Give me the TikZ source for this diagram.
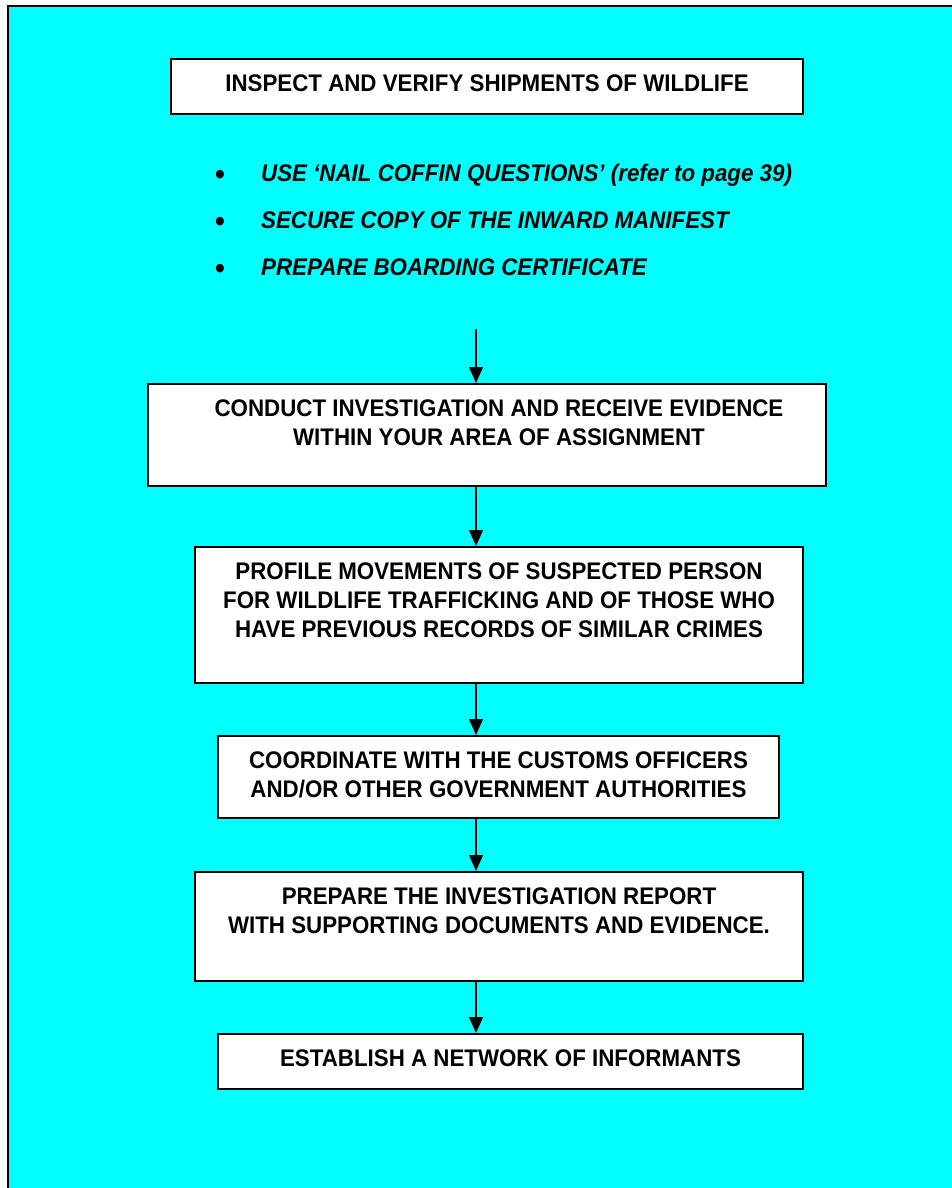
\documentclass[tikz,border=0pt]{standalone}
\usepackage{fontspec}
\setmainfont{Liberation Sans}[FakeStretch=0.93]
\usetikzlibrary{arrows.meta,positioning}
\definecolor{bgcyan}{RGB}{0,255,255}
\newcommand{\bulletmark}{\makebox[46pt][l]{\raisebox{-2.5pt}{\upshape\fontsize{30}{29}\selectfont\textbullet}}}

\begin{document}
\begin{tikzpicture}[x=1pt,y=-1pt,
  stepbox/.style={draw=black,line width=2pt,fill=white,anchor=north,align=center,
    font=\bfseries\fontsize{24}{29}\selectfont,text height=17pt,inner xsep=0pt,inner ysep=15.5pt},
  bullet/.style={anchor=base west,inner sep=0pt,font=\bfseries\itshape\fontsize{24}{29}\selectfont},
  flow/.style={-{Triangle[length=16pt,width=14pt]},line width=1.3pt}]
\useasboundingbox (0,0) rectangle (951,1188);
\draw[fill=bgcyan,line width=2pt] (8,6) rectangle (990,1230);
\node[stepbox,minimum width=632pt,text depth=7pt] (b1) at (487,58) {INSPECT AND VERIFY SHIPMENTS OF WILDLIFE};
\node[bullet] (u1) at (215,181.5) {\bulletmark USE `NAIL COFFIN QUESTIONS' (refer to page 39)};
\node[bullet] (u2) at (215,228.5) {\bulletmark SECURE COPY OF THE INWARD MANIFEST};
\node[bullet] (u3) at (215,275.5) {\bulletmark PREPARE BOARDING CERTIFICATE};
\coordinate (a0) at (476,329);
\node[stepbox,minimum width=678pt,text height=46pt,text depth=25pt] (b2) at (487,383) {\hspace*{24pt}CONDUCT INVESTIGATION AND RECEIVE EVIDENCE\\\hspace*{24pt}WITHIN YOUR AREA OF ASSIGNMENT};
\node[stepbox,minimum width=608pt,text height=75pt,text depth=30pt] (b3) at (499,546) {PROFILE MOVEMENTS OF SUSPECTED PERSON\\FOR WILDLIFE TRAFFICKING AND OF THOSE WHO\\HAVE PREVIOUS RECORDS OF SIMILAR CRIMES};
\node[stepbox,minimum width=561pt,text height=46pt,text depth=5pt] (b4) at (498.5,735) {COORDINATE WITH THE CUSTOMS OFFICERS\\AND/OR OTHER GOVERNMENT AUTHORITIES};
\node[stepbox,minimum width=608pt,text height=46pt,text depth=32pt] (b5) at (499,871) {PREPARE THE INVESTIGATION REPORT\\WITH SUPPORTING DOCUMENTS AND EVIDENCE.};
\node[stepbox,minimum width=585pt,text depth=7pt] (b6) at (510.5,1033) {ESTABLISH A NETWORK OF INFORMANTS};
\draw[flow] (a0) -- (b2.north -| a0);
\draw[flow] (b2.south -| a0) -- (b3.north -| a0);
\draw[flow] (b3.south -| a0) -- (b4.north -| a0);
\draw[flow] (b4.south -| a0) -- (b5.north -| a0);
\draw[flow] (b5.south -| a0) -- (b6.north -| a0);
\end{tikzpicture}
\end{document}
